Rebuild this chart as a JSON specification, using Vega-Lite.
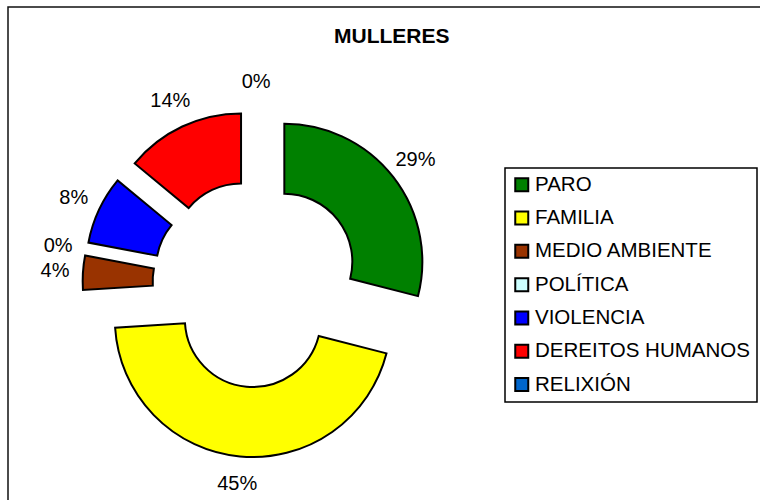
{
  "$schema": "https://vega.github.io/schema/vega-lite/v6.json",
  "width": 755,
  "height": 496,
  "autosize": {"type": "none"},
  "padding": {"left": 8, "top": 7, "right": -3, "bottom": -3},
  "background": "white",
  "view": {"stroke": "#111", "strokeWidth": 1.5},
  "config": {
    "view": {"stroke": "#111", "strokeWidth": 1.5},
    "legend": {"strokeWidth": 1.5}
  },
  "title": {
    "text": "MULLERES",
    "font": "Liberation Sans",
    "fontSize": 21,
    "fontWeight": "bold",
    "color": "#000",
    "anchor": "start",
    "frame": "group",
    "offset": -40,
    "dx": 326
  },
  "data": {
    "values": [
      {"idx": 1, "cat": "PARO", "value": 0.29},
      {"idx": 2, "cat": "FAMILIA", "value": 0.45},
      {"idx": 3, "cat": "MEDIO AMBIENTE", "value": 0.04},
      {"idx": 4, "cat": "POLÍTICA", "value": 0.0},
      {"idx": 5, "cat": "VIOLENCIA", "value": 0.08},
      {"idx": 6, "cat": "DEREITOS HUMANOS", "value": 0.14},
      {"idx": 7, "cat": "RELIXIÓN", "value": 0.0}
    ]
  },
  "layer": [
    {
      "mark": {
        "type": "arc",
        "radius": 138,
        "innerRadius": 68,
        "stroke": "#000",
        "x": 248.2,
        "y": 276.6,
        "xOffset": {"expr": "35.6*sin(PI*(datum.value_start+datum.value_end))"},
        "yOffset": {"expr": "-35.6*cos(PI*(datum.value_start+datum.value_end))"}
      },
      "encoding": {
        "theta": {"field": "value", "type": "quantitative", "stack": true},
        "order": {"field": "idx", "type": "quantitative"},
        "color": {
          "field": "cat",
          "type": "nominal",
          "scale": {
            "domain": ["PARO", "FAMILIA", "MEDIO AMBIENTE", "POLÍTICA", "VIOLENCIA", "DEREITOS HUMANOS", "RELIXIÓN"],
            "range": ["#008000", "#FFFF00", "#993300", "#CCFFFF", "#0000FF", "#FF0000", "#0066CC"]
          },
          "legend": {
            "orient": "none",
            "legendX": 497,
            "legendY": 161,
            "title": null,
            "symbolType": "square",
            "symbolSize": 169,
            "symbolStrokeColor": "#000",
            "symbolStrokeWidth": 2,
            "symbolOpacity": 1,
            "labelFont": "Liberation Sans",
            "labelFontSize": 20.5,
            "labelColor": "#000",
            "labelOffset": 3,
            "labelLimit": 400,
            "rowPadding": 11.3,
            "padding": 6.5,
            "strokeColor": "#000",
            "fillColor": "white"
          }
        },
        "strokeWidth": {"condition": {"test": "datum.value == 0", "value": 0}, "value": 2}
      }
    },
    {
      "mark": {
        "type": "text",
        "radius": 166,
        "x": 248.2,
        "y": 276.6,
        "xOffset": {"expr": "35.6*sin(PI*(datum.value_start+datum.value_end))"},
        "yOffset": {"expr": "-35.6*cos(PI*(datum.value_start+datum.value_end))"},
        "font": "Liberation Sans",
        "fontSize": 20,
        "color": "#000",
        "align": "center",
        "baseline": "middle"
      },
      "encoding": {
        "theta": {"field": "value", "type": "quantitative", "stack": true},
        "order": {"field": "idx", "type": "quantitative"},
        "text": {"field": "value", "type": "quantitative", "format": ".0%"}
      }
    }
  ]
}
